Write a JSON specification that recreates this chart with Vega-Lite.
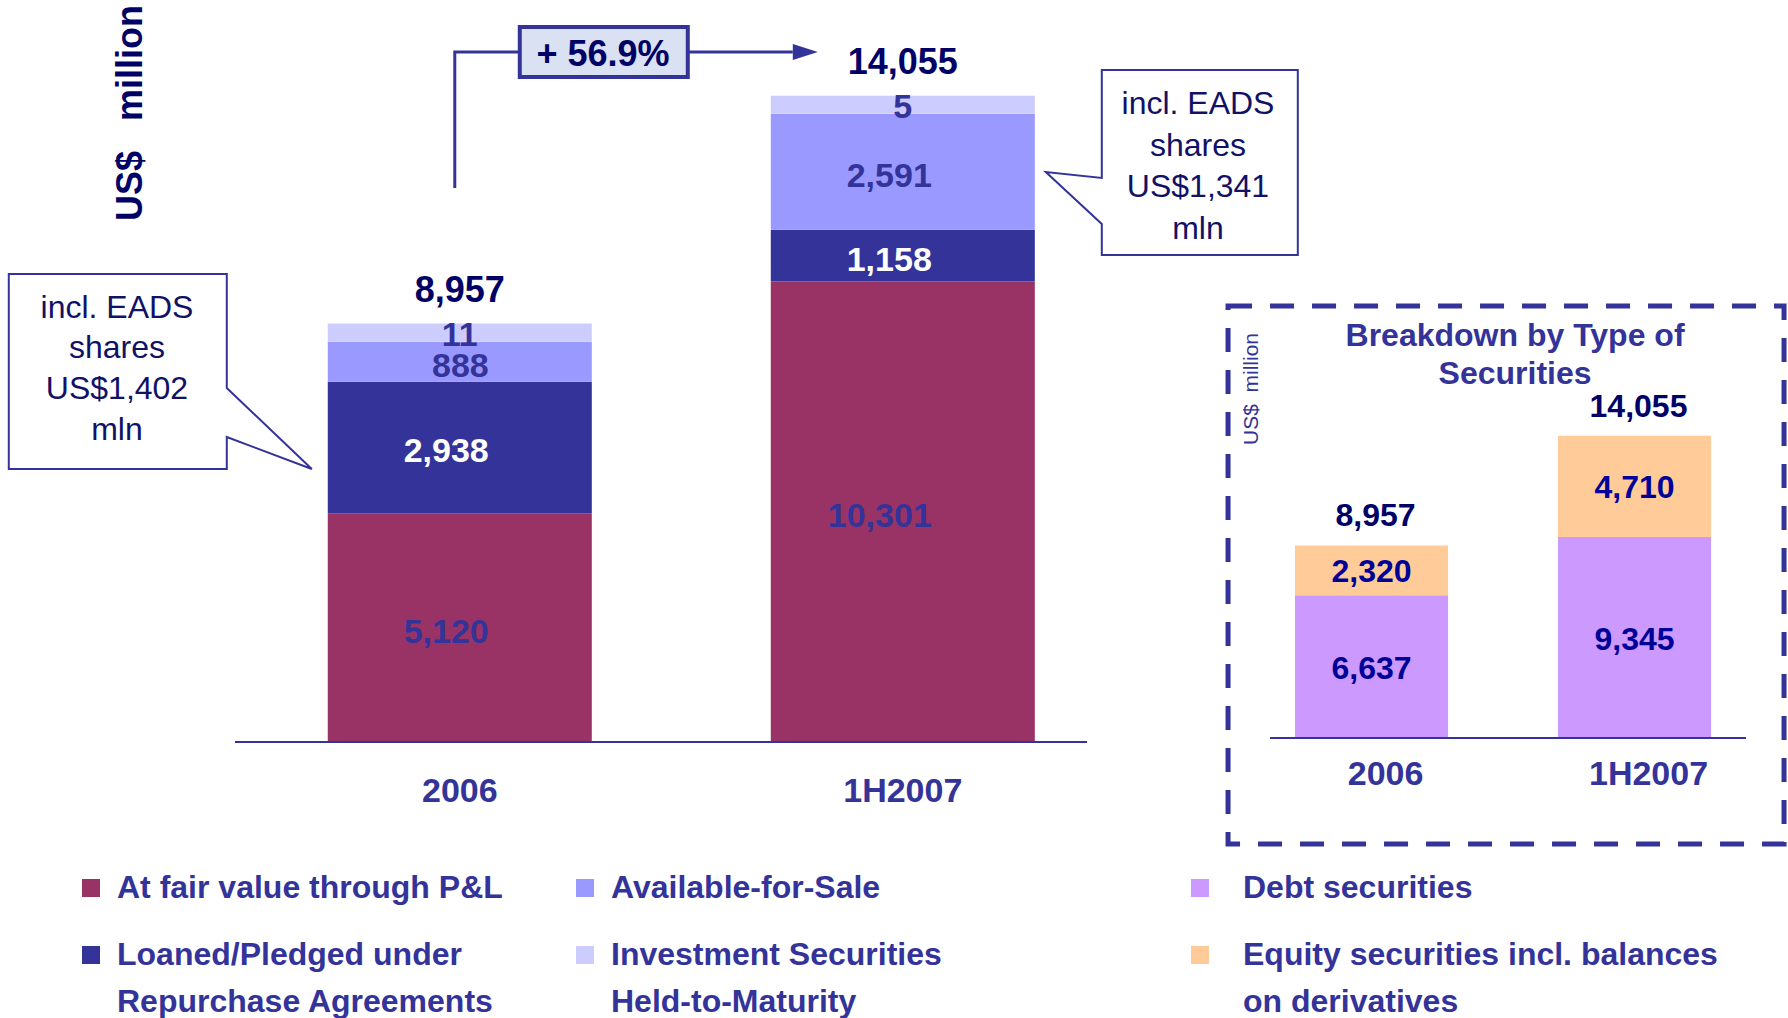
{
  "$schema": "https://vega.github.io/schema/vega-lite/v6.json",
  "width": 1788,
  "height": 1018,
  "autosize": {"type": "fit", "contains": "padding"},
  "padding": 0,
  "background": "white",
  "config": {
    "font": "Liberation Sans",
    "view": {"stroke": null},
    "axis": {"disable": true},
    "legend": {"padding": 0},
    "text": {"font": "Liberation Sans"}
  },
  "datasets": {
    "main": [
      {"period": "2006", "series": "At fair value through P&L", "value": 5120},
      {"period": "2006", "series": "Loaned/Pledged under Repurchase Agreements", "value": 2938},
      {"period": "2006", "series": "Available-for-Sale", "value": 888},
      {"period": "2006", "series": "Investment Securities Held-to-Maturity", "value": 11},
      {"period": "1H2007", "series": "At fair value through P&L", "value": 10301},
      {"period": "1H2007", "series": "Loaned/Pledged under Repurchase Agreements", "value": 1158},
      {"period": "1H2007", "series": "Available-for-Sale", "value": 2591},
      {"period": "1H2007", "series": "Investment Securities Held-to-Maturity", "value": 5}
    ],
    "inset": [
      {"period": "2006", "series": "Debt securities", "value": 6637},
      {"period": "2006", "series": "Equity securities incl. balances on derivatives", "value": 2320},
      {"period": "1H2007", "series": "Debt securities", "value": 9345},
      {"period": "1H2007", "series": "Equity securities incl. balances on derivatives", "value": 4710}
    ]
  },
  "layer": [
    {
      "data": {"name": "main"},
      "transform": [
        {"calculate": "indexof(['At fair value through P&L','Loaned/Pledged under Repurchase Agreements','Available-for-Sale','Investment Securities Held-to-Maturity'], datum.series)", "as": "ord"}
      ],
      "layer": [
        {
          "mark": {"type": "bar", "opacity": 1},
          "encoding": {
            "x": {"field": "period", "type": "nominal", "axis": null,
                  "scale": {"domain": ["2006", "1H2007"], "range": [235, 1087], "paddingInner": 0.404, "paddingOuter": 0.1636, "align": 0.64}},
            "y": {"field": "value", "type": "quantitative", "stack": "zero", "axis": null,
                  "scale": {"domain": [0, 16599], "range": [742, 0], "nice": false, "zero": false}},
            "color": {"field": "series", "type": "nominal",
                      "scale": {"domain": ["At fair value through P&L", "Loaned/Pledged under Repurchase Agreements", "Available-for-Sale", "Investment Securities Held-to-Maturity"],
                                "range": ["#993366", "#333399", "#9999FF", "#CCCCFF"]},
                      "legend": {
                        "orient": "none", "legendX": 75, "legendY": 872, "title": null,
                        "columns": 2, "columnPadding": 66, "rowPadding": 35,
                        "symbolType": "square", "symbolSize": 324, "symbolStrokeWidth": 0, "symbolOpacity": 1,
                        "labelFont": "Liberation Sans", "labelFontSize": 32, "labelFontWeight": "bold", "labelColor": "#333399",
                        "labelOffset": 10, "labelLimit": 800, "labelBaseline": "middle",
                        "labelExpr": "split(replace(replace(datum.label, ' Repurchase', '|Repurchase'), ' Held-to', '|Held-to'), '|')",
                        "encode": {"labels": {"update": {"lineHeight": {"value": 47}}}}
                      }},
            "order": {"field": "ord", "type": "quantitative"}
          }
        },
        {
          "transform": [
            {"stack": "value", "groupby": ["period"], "sort": [{"field": "ord", "order": "ascending"}], "as": ["v0", "v1"]},
            {"filter": "datum.series === 'Investment Securities Held-to-Maturity'"}
          ],
          "layer": [
            {
              "mark": {"type": "tick", "orient": "horizontal", "thickness": 18, "size": 264, "yOffset": -9, "color": "#CCCCFF", "opacity": 1},
              "encoding": {
                "x": {"field": "period", "type": "nominal"},
                "y": {"field": "v1", "type": "quantitative"}
              }
            },
            {
              "mark": {"type": "text", "dy": -6, "fontSize": 34, "fontWeight": "bold", "color": "#333399"},
              "encoding": {
                "x": {"field": "period", "type": "nominal"},
                "y": {"field": "v1", "type": "quantitative"},
                "text": {"field": "value", "type": "quantitative", "format": ","}
              }
            }
          ]
        },
        {
          "transform": [{"filter": "datum.series !== 'Investment Securities Held-to-Maturity'"}],
          "mark": {"type": "text", "align": "right", "dx": 29, "dy": 5, "fontSize": 34, "fontWeight": "bold"},
          "encoding": {
            "x": {"field": "period", "type": "nominal"},
            "y": {"field": "value", "type": "quantitative", "stack": "zero", "bandPosition": 0.5},
            "detail": {"field": "series"},
            "order": {"field": "ord", "type": "quantitative"},
            "text": {"field": "value", "type": "quantitative", "format": ","},
            "color": {"condition": {"test": "datum.series === 'Loaned/Pledged under Repurchase Agreements'", "value": "#FFFFFF"}, "value": "#333399"}
          }
        },
        {
          "transform": [{"aggregate": [{"op": "sum", "field": "value", "as": "total"}], "groupby": ["period"]}],
          "layer": [
            {
              "mark": {"type": "text", "dy": -51, "fontSize": 36, "fontWeight": "bold", "color": "#000066"},
              "encoding": {
                "x": {"field": "period", "type": "nominal"},
                "y": {"field": "total", "type": "quantitative"},
                "text": {"field": "total", "type": "quantitative", "format": ","}
              }
            },
            {
              "mark": {"type": "text", "dy": 50, "fontSize": 34, "fontWeight": "bold", "color": "#333399"},
              "encoding": {
                "x": {"field": "period", "type": "nominal"},
                "y": {"datum": 0, "type": "quantitative"},
                "text": {"field": "period", "type": "nominal"}
              }
            }
          ]
        },
        {
          "data": {"values": [{"anchor": "axis"}]},
          "mark": {"type": "rule", "color": "#333399", "strokeWidth": 2, "xOffset": -224.8, "x2Offset": 184.2},
          "encoding": {
            "x": {"datum": "2006", "type": "nominal"},
            "x2": {"datum": "1H2007"},
            "y": {"datum": 0, "type": "quantitative"}
          }
        },
        {
          "data": {"values": [{"anchor": "title"}]},
          "mark": {"type": "text", "angle": 270, "dx": 629, "dy": -328.8, "fontSize": 36, "fontWeight": "bold", "color": "#000066"},
          "encoding": {
            "x": {"datum": "2006", "type": "nominal"},
            "y": {"datum": 0, "type": "quantitative"},
            "text": {"value": "US$\u00a0\u00a0\u00a0million"}
          }
        },
        {
          "data": {"values": [{"anchor": "growth"}]},
          "encoding": {
            "x": {"datum": "2006", "type": "nominal"},
            "y": {"datum": 0, "type": "quantitative"}
          },
          "layer": [
            {"mark": {"type": "point", "shape": "M-5,-554L-5,-690L333,-690", "size": 4, "filled": false, "stroke": "#333399", "strokeWidth": 3, "opacity": 1}},
            {"mark": {"type": "point", "shape": "M333,-698L358,-690L333,-682Z", "size": 4, "filled": true, "color": "#333399", "strokeWidth": 0, "opacity": 1}},
            {"mark": {"type": "point", "shape": "M60,-715L228,-715L228,-665L60,-665Z", "size": 4, "filled": true, "fill": "#D9E1F2", "stroke": "#333399", "strokeWidth": 4, "opacity": 1}},
            {"mark": {"type": "text", "dx": 143.2, "dy": -687, "fontSize": 36, "fontWeight": "bold", "color": "#000066"},
             "encoding": {"text": {"value": "+ 56.9%"}}}
          ]
        },
        {
          "data": {"values": [{"anchor": "eads2006"}]},
          "encoding": {
            "x": {"datum": "2006", "type": "nominal"},
            "y": {"datum": 0, "type": "quantitative"}
          },
          "layer": [
            {"mark": {"type": "point", "shape": "M-451,-468L-233,-468L-233,-354L-148,-273L-233,-305L-233,-273L-451,-273Z", "size": 4, "filled": true, "fill": "#FFFFFF", "stroke": "#333399", "strokeWidth": 2, "opacity": 1}},
            {"mark": {"type": "text", "dx": -342.8, "dy": -434.4, "lineHeight": 40.7, "fontSize": 32, "fontWeight": "normal", "color": "#111166"},
             "encoding": {"text": {"value": ["incl. EADS", "shares", "US$1,402", "mln"]}}}
          ]
        },
        {
          "data": {"values": [{"anchor": "eads1H2007"}]},
          "encoding": {
            "x": {"datum": "1H2007", "type": "nominal"},
            "y": {"datum": 0, "type": "quantitative"}
          },
          "layer": [
            {"mark": {"type": "point", "shape": "M199,-672L395,-672L395,-487L199,-487L199,-518L143,-570L199,-564Z", "size": 4, "filled": true, "fill": "#FFFFFF", "stroke": "#333399", "strokeWidth": 2, "opacity": 1}},
            {"mark": {"type": "text", "dx": 295.2, "dy": -638, "lineHeight": 41.7, "fontSize": 32, "fontWeight": "normal", "color": "#111166"},
             "encoding": {"text": {"value": ["incl. EADS", "shares", "US$1,341", "mln"]}}}
          ]
        }
      ]
    },
    {
      "data": {"name": "inset"},
      "transform": [
        {"calculate": "indexof(['Debt securities','Equity securities incl. balances on derivatives'], datum.series)", "as": "ord"}
      ],
      "layer": [
        {
          "mark": {"type": "bar", "opacity": 1},
          "encoding": {
            "x": {"field": "period", "type": "nominal", "axis": null,
                  "scale": {"domain": ["2006", "1H2007"], "range": [1270, 1746], "paddingInner": 0.418, "paddingOuter": 0.114, "align": 0.417}},
            "y": {"field": "value", "type": "quantitative", "stack": "zero", "axis": null,
                  "scale": {"domain": [0, 34326], "range": [738, 0], "nice": false, "zero": false}},
            "color": {"field": "series", "type": "nominal",
                      "scale": {"domain": ["Debt securities", "Equity securities incl. balances on derivatives"], "range": ["#CC99FF", "#FFCC99"]},
                      "legend": {
                        "orient": "none", "legendX": 1184, "legendY": 872, "title": null,
                        "columns": 1, "rowPadding": 35,
                        "symbolType": "square", "symbolSize": 324, "symbolStrokeWidth": 0, "symbolOpacity": 1,
                        "labelFont": "Liberation Sans", "labelFontSize": 32, "labelFontWeight": "bold", "labelColor": "#333399",
                        "labelOffset": 27, "labelLimit": 800, "labelBaseline": "middle",
                        "labelExpr": "split(replace(datum.label, ' on derivatives', '|on derivatives'), '|')",
                        "encode": {"labels": {"update": {"lineHeight": {"value": 47}}}}
                      }},
            "order": {"field": "ord", "type": "quantitative"}
          }
        },
        {
          "mark": {"type": "text", "dy": 2, "fontSize": 32, "fontWeight": "bold", "color": "#000099"},
          "encoding": {
            "x": {"field": "period", "type": "nominal"},
            "y": {"field": "value", "type": "quantitative", "stack": "zero", "bandPosition": 0.5},
            "detail": {"field": "series"},
            "order": {"field": "ord", "type": "quantitative"},
            "text": {"field": "value", "type": "quantitative", "format": ","}
          }
        },
        {
          "transform": [{"aggregate": [{"op": "sum", "field": "value", "as": "total"}], "groupby": ["period"]}],
          "layer": [
            {
              "mark": {"type": "text", "dx": 4, "dy": -29, "fontSize": 32, "fontWeight": "bold", "color": "#000066"},
              "encoding": {
                "x": {"field": "period", "type": "nominal"},
                "y": {"field": "total", "type": "quantitative"},
                "text": {"field": "total", "type": "quantitative", "format": ","}
              }
            },
            {
              "mark": {"type": "text", "dx": 14, "dy": 37, "fontSize": 34, "fontWeight": "bold", "color": "#333399"},
              "encoding": {
                "x": {"field": "period", "type": "nominal"},
                "y": {"datum": 0, "type": "quantitative"},
                "text": {"field": "period", "type": "nominal"}
              }
            }
          ]
        },
        {
          "data": {"values": [{"anchor": "axis"}]},
          "mark": {"type": "rule", "color": "#333399", "strokeWidth": 2, "xOffset": -101.5, "x2Offset": 111.5},
          "encoding": {
            "x": {"datum": "2006", "type": "nominal"},
            "x2": {"datum": "1H2007"},
            "y": {"datum": 0, "type": "quantitative"}
          }
        },
        {
          "data": {"values": [{"anchor": "frame"}]},
          "encoding": {
            "x": {"datum": "2006", "type": "nominal"},
            "y": {"datum": 0, "type": "quantitative"}
          },
          "layer": [
            {"mark": {"type": "point", "shape": "M-143.5,-432L412.5,-432L412.5,106L-143.5,106Z", "size": 4, "filled": false, "stroke": "#333399", "strokeWidth": 5, "strokeDash": [24, 18], "opacity": 1}},
            {"mark": {"type": "text", "dx": 143.5, "dy": -402, "lineHeight": 38, "fontSize": 32, "fontWeight": "bold", "color": "#333399"},
             "encoding": {"text": {"value": ["Breakdown by Type of", "Securities"]}}},
            {"mark": {"type": "text", "angle": 270, "dx": 349, "dy": -119.5, "fontSize": 21, "fontWeight": "normal", "color": "#333399"},
             "encoding": {"text": {"value": "US$\u00a0\u00a0million"}}}
          ]
        }
      ]
    }
  ],
  "resolve": {"scale": {"x": "independent", "y": "independent", "color": "independent"}}
}
